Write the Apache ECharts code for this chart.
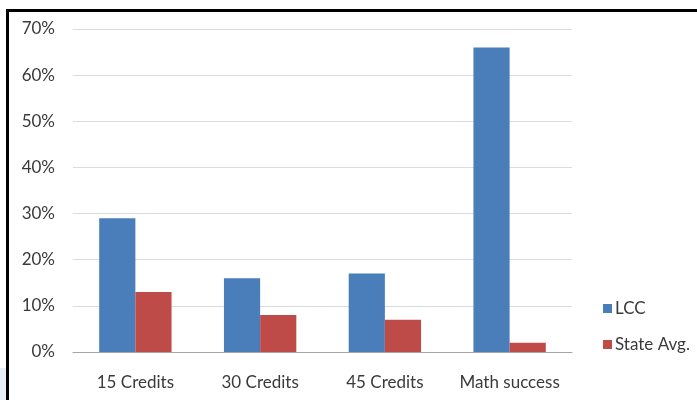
<!DOCTYPE html>
<html>
<head>
<meta charset="utf-8">
<script src="https://cdn.jsdelivr.net/npm/echarts@6/dist/echarts.min.js"></script>
<style>
html,body{margin:0;padding:0;background:#fff;}
#c{width:697px;height:400px;}
</style>
</head>
<body>
<div id="c"></div>
<script>
const categories = ['15 Credits', '30 Credits', '45 Credits', 'Math success'];
const lccValues = [29, 16, 17, 66];
const stateValues = [13, 8, 7, 2];
const yTicks = ['0%', '10%', '20%', '30%', '40%', '50%', '60%', '70%'];

const chart = echarts.init(document.getElementById('c'), null, {renderer: 'canvas'});
const font = 'Lato, "Open Sans", sans-serif';
chart.setOption({
  animation: false,
  backgroundColor: '#ffffff',
  graphic: [
    {type: 'rect', shape: {x: 0, y: 368, width: 6, height: 32}, style: {fill: '#e8eef7'}, silent: true},
    {type: 'rect', shape: {x: 6, y: 9, width: 700, height: 3}, style: {fill: '#000'}, silent: true},
    {type: 'rect', shape: {x: 6, y: 9, width: 3, height: 400}, style: {fill: '#000'}, silent: true}
  ],
  grid: {left: 73, right: 125, top: 29, bottom: 48},
  legend: {
    orient: 'vertical',
    left: 598,
    top: 295,
    itemWidth: 9,
    itemHeight: 9,
    itemGap: 19,
    icon: 'rect',
    textStyle: {fontFamily: font, fontSize: 17, color: '#3a3a3a', padding: [0, 0, 0, -2]},
    data: ['LCC', 'State Avg.']
  },
  xAxis: {
    type: 'category',
    data: categories,
    axisLine: {lineStyle: {color: '#a6a6a6'}},
    axisTick: {show: false},
    axisLabel: {fontFamily: font, fontSize: 17, color: '#3a3a3a', margin: 22, interval: 0, hideOverlap: false}
  },
  yAxis: {
    type: 'value',
    min: 0,
    max: 70,
    interval: 10,
    axisLine: {show: false},
    axisTick: {show: false},
    splitLine: {lineStyle: {color: '#dcdcdc', width: 1}},
    axisLabel: {
      fontFamily: font, fontSize: 17, color: '#3a3a3a', margin: 18,
      formatter: function (v) { return yTicks[Math.round(v / 10)]; }
    }
  },
  series: [
    {name: 'LCC', type: 'bar', data: lccValues, barGap: '0%', barCategoryGap: '42%',
     itemStyle: {color: '#4a7ebb'}},
    {name: 'State Avg.', type: 'bar', data: stateValues,
     itemStyle: {color: '#be4b48'}}
  ]
});
</script>
</body>
</html>
